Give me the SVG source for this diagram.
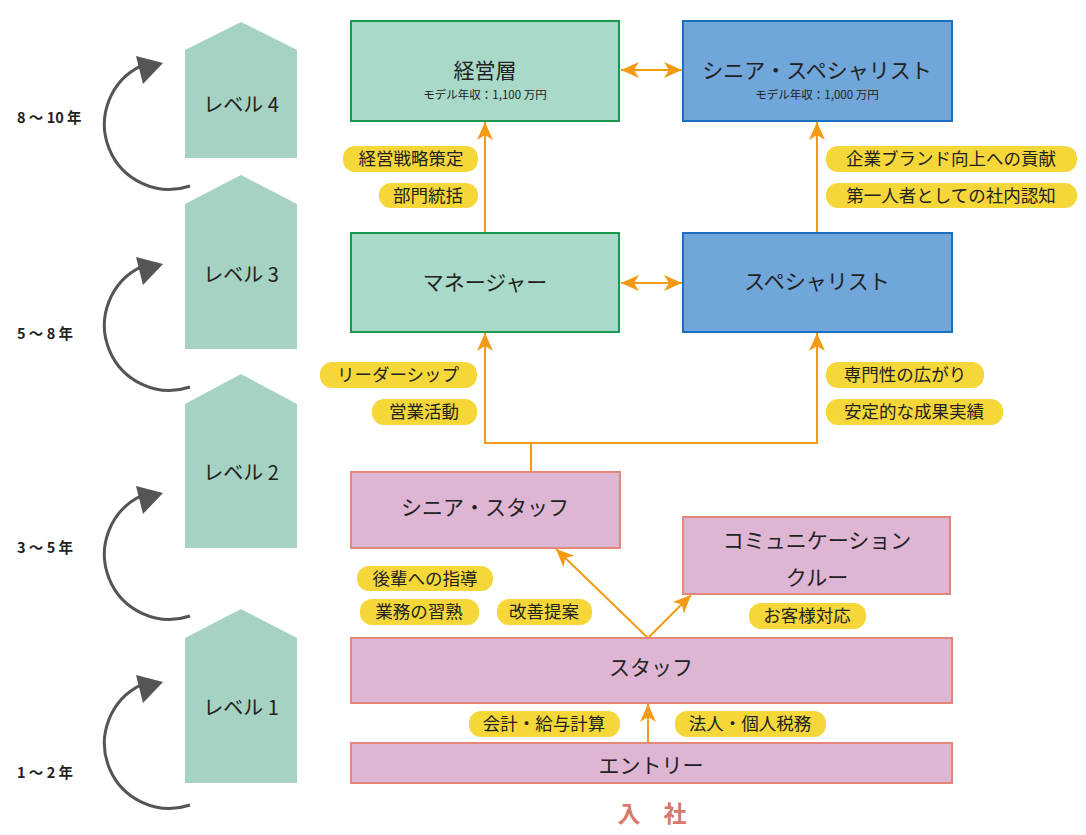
<svg xmlns="http://www.w3.org/2000/svg" width="1086" height="835" viewBox="0 0 1086 835">
<style>
text{font-family:"Noto Sans CJK JP","Noto Sans",sans-serif;fill:#222;text-anchor:middle}
.lv{fill:#a5d2c2}
.lvt{font-size:20px}
.yr{font-size:14.5px;font-weight:bold;text-anchor:start}
.arc{fill:none;stroke:#555;stroke-width:3}
.ah{fill:#555}
.bg{fill:#a9d9c8;stroke:#1a9850;stroke-width:2}
.bb{fill:#70a6da;stroke:#1b6fc0;stroke-width:2}
.bp{fill:#dfb5d4;stroke:#e3877a;stroke-width:2}
.bt{font-size:21px}
.sub{font-size:11.5px}
.pill{fill:#f5d73a}
.pt{font-size:17.5px}
.con{fill:none;stroke:#f39a12;stroke-width:2}
.nyu{font-size:23px;font-weight:bold;fill:#d9776d}
</style>
<defs>
<marker id="ar" markerUnits="userSpaceOnUse" markerWidth="20" markerHeight="18" refX="18" refY="8" orient="auto-start-reverse" viewBox="0 0 20 16">
<path d="M18,8 L0,0 L5,8 L0,16 Z" fill="#f39a12"/>
</marker>
</defs>

<g id="level4">
<polygon class="lv" points="185,50 241,22 297,50 297,158 185,158"/>
<text class="lvt" x="241" y="112">レベル 4</text>
</g>
<g id="level3">
<polygon class="lv" points="185,204 241,175 297,204 297,349 185,349"/>
<text class="lvt" x="241" y="282">レベル 3</text>
</g>
<g id="level2">
<polygon class="lv" points="185,404 241,374 297,404 297,548 185,548"/>
<text class="lvt" x="241" y="480">レベル 2</text>
</g>
<g id="level1">
<polygon class="lv" points="185,638 241,609 297,638 297,783 185,783"/>
<text class="lvt" x="241" y="715">レベル 1</text>
</g>

<g id="years">
<text class="yr" x="17" y="123">8 ～ 10 年</text>
<text class="yr" x="17" y="339">5 ～ 8 年</text>
<text class="yr" x="17" y="553">3 ～ 5 年</text>
<text class="yr" x="17" y="778">1 ～ 2 年</text>
</g>

<g id="progress-arrows">
<path class="arc" d="M190,186 A65,65 0 0 1 141.6,65.6"/>
<polygon class="ah" points="136,56 163,63 143,84"/>
<path class="arc" d="M190,387 A65,65 0 0 1 141.6,266.6"/>
<polygon class="ah" points="136,257 163,264 143,285"/>
<path class="arc" d="M190,616 A65,65 0 0 1 141.6,495.6"/>
<polygon class="ah" points="136,486 163,493 143,514"/>
<path class="arc" d="M190,805 A65,65 0 0 1 141.6,684.6"/>
<polygon class="ah" points="136,675 163,682 143,703"/>
</g>

<g id="connectors">
<line class="con" x1="621" y1="70" x2="682" y2="70" marker-start="url(#ar)" marker-end="url(#ar)"/>
<line class="con" x1="621" y1="283" x2="682" y2="283" marker-start="url(#ar)" marker-end="url(#ar)"/>
<line class="con" x1="485" y1="233" x2="485" y2="122" marker-end="url(#ar)"/>
<line class="con" x1="817" y1="233" x2="817" y2="122" marker-end="url(#ar)"/>
<polyline class="con" points="531,472 531,443"/>
<line class="con" x1="485" y1="443" x2="485" y2="333" marker-end="url(#ar)"/>
<line class="con" x1="817" y1="443" x2="817" y2="333" marker-end="url(#ar)"/>
<line class="con" x1="484" y1="443" x2="818" y2="443"/>
<line class="con" x1="648" y1="638" x2="556" y2="549" marker-end="url(#ar)"/>
<line class="con" x1="648" y1="638" x2="691" y2="595" marker-end="url(#ar)"/>
<line class="con" x1="648" y1="743" x2="648" y2="704" marker-end="url(#ar)"/>
</g>

<g id="keieiso">
<rect class="bg" x="351" y="21" width="268" height="100"/>
<text class="bt" x="485" y="78">経営層</text>
<text class="sub" x="485" y="99">モデル年収：1,100 万円</text>
</g>
<g id="senior-specialist">
<rect class="bb" x="683" y="21" width="269" height="100"/>
<text class="bt" x="817" y="78">シニア・スペシャリスト</text>
<text class="sub" x="817" y="99">モデル年収：1,000 万円</text>
</g>
<g id="manager">
<rect class="bg" x="351" y="233" width="268" height="99"/>
<text class="bt" x="485" y="290">マネージャー</text>
</g>
<g id="specialist">
<rect class="bb" x="683" y="233" width="269" height="99"/>
<text class="bt" x="817" y="289">スペシャリスト</text>
</g>
<g id="senior-staff">
<rect class="bp" x="351" y="472" width="269" height="76"/>
<text class="bt" x="485" y="515">シニア・スタッフ</text>
</g>
<g id="comm-crew">
<rect class="bp" x="683" y="517" width="267" height="77"/>
<text class="bt" x="817" y="548">コミュニケーション</text>
<text class="bt" x="817" y="585">クルー</text>
</g>
<g id="staff">
<rect class="bp" x="351" y="638" width="601" height="65"/>
<text class="bt" x="651" y="675">スタッフ</text>
</g>
<g id="entry">
<rect class="bp" x="351" y="743" width="601" height="40"/>
<text class="bt" x="651" y="773">エントリー</text>
</g>

<g id="pills">
<rect class="pill" x="343" y="146" width="135" height="26" rx="12"/>
<text class="pt" x="411" y="165">経営戦略策定</text>
<rect class="pill" x="379" y="183" width="99" height="25" rx="12"/>
<text class="pt" x="428" y="202">部門統括</text>
<rect class="pill" x="826" y="146" width="251" height="26" rx="12"/>
<text class="pt" x="951" y="165">企業ブランド向上への貢献</text>
<rect class="pill" x="826" y="183" width="251" height="25" rx="12"/>
<text class="pt" x="951" y="202">第一人者としての社内認知</text>
<rect class="pill" x="320" y="362" width="157" height="26" rx="12"/>
<text class="pt" x="398" y="381">リーダーシップ</text>
<rect class="pill" x="372" y="399" width="105" height="26" rx="12"/>
<text class="pt" x="424" y="418">営業活動</text>
<rect class="pill" x="826" y="362" width="158" height="26" rx="12"/>
<text class="pt" x="905" y="381">専門性の広がり</text>
<rect class="pill" x="826" y="399" width="177" height="26" rx="12"/>
<text class="pt" x="914" y="418">安定的な成果実績</text>
<rect class="pill" x="357" y="566" width="136" height="25" rx="12"/>
<text class="pt" x="425" y="585">後輩への指導</text>
<rect class="pill" x="360" y="599" width="119" height="26" rx="12"/>
<text class="pt" x="419" y="618">業務の習熟</text>
<rect class="pill" x="497" y="599" width="95" height="26" rx="12"/>
<text class="pt" x="544" y="618">改善提案</text>
<rect class="pill" x="749" y="603" width="117" height="26" rx="12"/>
<text class="pt" x="807" y="622">お客様対応</text>
<rect class="pill" x="469" y="711" width="151" height="26" rx="12"/>
<text class="pt" x="544" y="730">会計・給与計算</text>
<rect class="pill" x="675" y="711" width="151" height="26" rx="12"/>
<text class="pt" x="750" y="730">法人・個人税務</text>
</g>

<g id="nyusha">
<text class="nyu" x="652" y="822">入　社</text>
</g>
</svg>
